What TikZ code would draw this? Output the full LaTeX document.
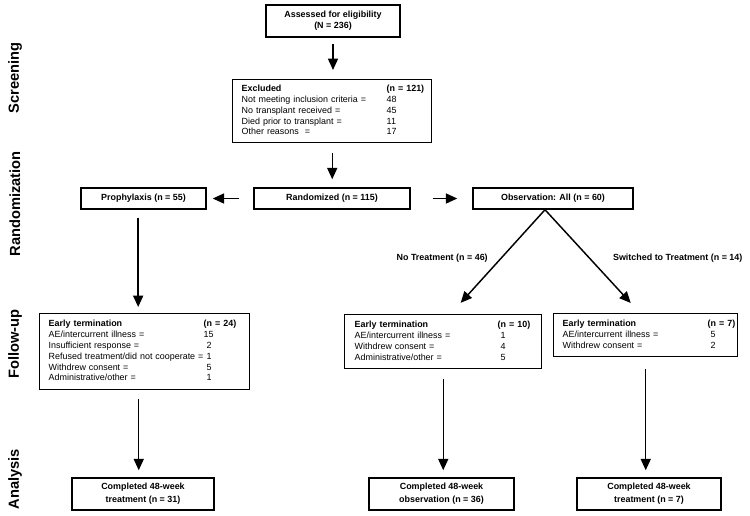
\documentclass[tikz,border=0pt]{standalone}
\usepackage{fontspec}
\setmainfont{Liberation Sans}
\usetikzlibrary{arrows.meta}

\newcommand{\boxfont}{\fontsize{6.7}{8.1}\selectfont}
\newcommand{\phasefont}{\fontsize{11}{13}\selectfont\bfseries}

\tikzset{every picture/.style={line width=0.75pt}}
\tikzset{
  flowbox/.style={draw, line width=1.1pt, font=\boxfont\bfseries, align=center, inner sep=0pt},
  listbox/.style={draw, line width=1.1pt, font=\boxfont, anchor=north west, inner ysep=0pt, align=left},
  flow/.style={line width=1.1pt, -{Triangle[length=8.5pt,width=7.5pt]}},
  phase/.style={rotate=90, font=\phasefont},
  armlabel/.style={font=\boxfont\bfseries, inner sep=0pt}
}

\begin{document}
\begin{tikzpicture}[x=0.75pt,y=0.75pt,yscale=-1,xscale=1]
	\useasboundingbox (0,0) rectangle (750,515);

	% Phase labels
	\node[phase] (screening) at (15,78) {Screening};
	\node[phase] (randomization) at (15,204) {Randomization};
	\node[phase] (followup) at (15,344) {Follow-up};
	\node[phase] (analysis) at (15,479) {Analysis};

	% Text Node
	\node[flowbox, minimum width=100.5pt, minimum height=24pt] (assessed) at (333,21) {Assessed for eligibility\\(N = 236)};
	% Text Node
	\node[listbox, text width=135.75pt, inner xsep=6.75pt, minimum height=47.25pt] (excluded) at (232,79) {%
		\begin{tabular}{@{}p{108.75pt}@{}l@{}}
			\textbf{Excluded} & \textbf{(n = 121)}\\
			Not meeting inclusion criteria = & 48\\
			No transplant received = & 45\\
			Died prior to transplant = & 11\\
			Other reasons\ \ = & 17
		\end{tabular}};

	% Text Node
	\node[flowbox, minimum width=93.75pt, minimum height=15.75pt] (prophylaxis) at (143.5,198.5) {Prophylaxis (n = 55)};
	% Text Node
	\node[flowbox, minimum width=117pt, minimum height=15.75pt] (randomized) at (332,198.5) {Randomized (n = 115)};
	% Text Node
	\node[flowbox, minimum width=120pt, minimum height=15.75pt] (observation) at (553,198.5) {Observation: All (n = 60)};

	% Text Node
	\node[listbox, text width=144pt, inner xsep=6.75pt, minimum height=57pt] (termproph) at (39,313) {%
		\begin{tabular}{@{}p{116.25pt}@{}l@{}}
			\textbf{Early termination} & \textbf{(n = 24)}\\
			AE/intercurrent illness = & 15\\
			Insufficient response = & \ 2\\
			Refused treatment/did not cooperate = & \ 1\\
			Withdrew consent = & \ 5\\
			Administrative/other = & \ 1
		\end{tabular}};
	% Text Node
	\node[listbox, text width=132.75pt, inner xsep=7.5pt, minimum height=40.5pt] (termobs) at (344,314) {%
		\begin{tabular}{@{}p{107.25pt}@{}l@{}}
			\textbf{Early termination} & \textbf{(n = 10)}\\
			AE/intercurrent illness = & \ 1\\
			Withdrew consent = & \ 4\\
			Administrative/other = & \ 5
		\end{tabular}};
	% Text Node
	\node[listbox, text width=124.5pt, inner xsep=6.75pt, minimum height=32.25pt] (termswitch) at (553,313) {%
		\begin{tabular}{@{}p{108.75pt}@{}l@{}}
			\textbf{Early termination} & \textbf{(n = 7)}\\
			AE/intercurrent illness = & \ 5\\
			Withdrew consent = & \ 2
		\end{tabular}};

	% Text Node
	\node[flowbox, minimum width=106.5pt, minimum height=24pt] (donetreat) at (143,494) {Completed 48-week\\[1.5pt]treatment (n = 31)};
	% Text Node
	\node[flowbox, minimum width=108.75pt, minimum height=24pt] (doneobs) at (441.5,494) {Completed 48-week\\[1.5pt]observation (n = 36)};
	% Text Node
	\node[flowbox, minimum width=108pt, minimum height=24pt] (doneswitch) at (649,494) {Completed 48-week\\[1.5pt]treatment (n = 7)};

	%Straight Lines
	\draw[flow, shorten <=4.5pt, shorten >=6.75pt] (assessed.south) -- (assessed.south |- excluded.north);
	%Straight Lines
	\draw[flow, shorten <=7.5pt, shorten >=6pt] (excluded.south) -- (excluded.south |- randomized.north);
	%Straight Lines
	\draw[flow, shorten <=10.5pt, shorten >=4.5pt] (randomized.west) -- (prophylaxis.east);
	%Straight Lines
	\draw[flow, shorten <=16.5pt, shorten >=11.25pt] (randomized.east) -- (observation.west);
	%Straight Lines
	\draw[flow, shorten <=6pt, shorten >=4.5pt] ([xshift=-4pt]prophylaxis.south) -- ([xshift=-4pt]prophylaxis.south |- termproph.north);

	% split below the observation box
	\coordinate (split) at ([xshift=-6pt]observation.south);
	\draw[flow, shorten >=11.25pt] (split) -- ([xshift=5.5pt]termobs.north)
		node[armlabel, midway, anchor=east, xshift=-7pt, yshift=2.6pt] {No Treatment (n = 46)};
	\draw[flow, shorten >=10.2pt] (split) -- ([xshift=-4.35pt]termswitch.north)
		node[armlabel, midway, anchor=west, xshift=14.9pt, yshift=2.25pt] {Switched to Treatment (n = 14)};

	%Straight Lines
	\draw[flow, shorten <=6.75pt, shorten >=5.25pt] ([xshift=-4.5pt]termproph.south) -- ([xshift=-4.5pt]termproph.south |- donetreat.north);
	%Straight Lines
	\draw[flow, shorten <=7.5pt, shorten >=5.25pt] (termobs.south) -- (termobs.south |- doneobs.north);
	%Straight Lines
	\draw[flow, shorten <=9pt, shorten >=5.25pt] (termswitch.south) -- (termswitch.south |- doneswitch.north);

\end{tikzpicture}
\end{document}
